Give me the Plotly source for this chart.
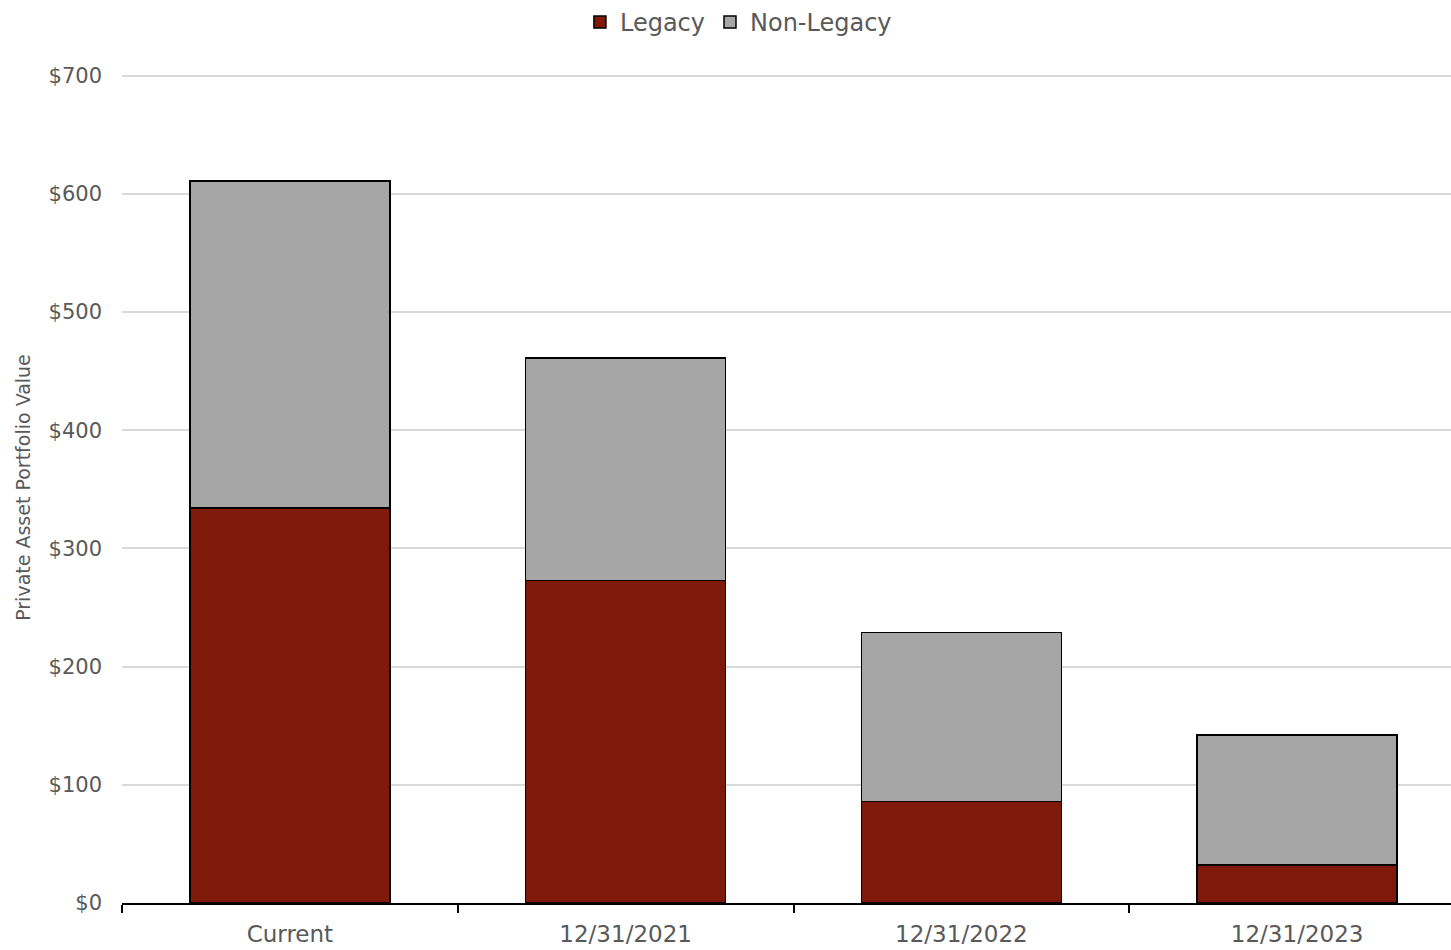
import plotly.graph_objects as go

categories = ["Current", "12/31/2021", "12/31/2022", "12/31/2023"]
legacy = [334, 273, 86, 32]
non_legacy = [277, 188, 143, 110]
ytick_vals = [0, 100, 200, 300, 400, 500, 600, 700]
ytick_text = ["$0", "$100", "$200", "$300", "$400", "$500", "$600", "$700"]

FONT = "'DejaVu Sans', 'Open Sans', sans-serif"
TXT = "#595959"

fig = go.Figure()
fig.add_trace(go.Bar(name="Legacy", x=categories, y=legacy,
                     marker=dict(color="#7F1A0A", line=dict(color="black", width=1.5))))
fig.add_trace(go.Bar(name="Non-Legacy", x=categories, y=non_legacy,
                     marker=dict(color="#A6A6A6", line=dict(color="black", width=1.5))))

fig.update_layout(
    barmode="stack", bargap=0.405,
    width=1465, height=950,
    margin=dict(l=122, r=0, t=69, b=47),
    plot_bgcolor="white", paper_bgcolor="white",
    font=dict(family=FONT, color=TXT, size=22),
    legend=dict(orientation="h", x=0.459, xanchor="center", y=1.06, yref="paper",
                yanchor="middle", font=dict(size=24, color=TXT), traceorder="normal",
                itemwidth=30),
    xaxis=dict(showline=True, linecolor="black", linewidth=1.5, ticks="outside",
               tickson="boundaries", ticklen=8, tickcolor="black", tickwidth=1.5,
               tickfont=dict(size=23, color=TXT), ticklabelstandoff=10, automargin=False),
    yaxis=dict(range=[0, 703], tickvals=ytick_vals, ticktext=ytick_text,
               showgrid=True,
               gridcolor="#D9D9D9", gridwidth=1.5, zeroline=False, automargin=False,
               tickfont=dict(size=21, color=TXT), ticklabelstandoff=19,
               title=dict(text="Private Asset Portfolio Value", font=dict(size=19, color=TXT),
                          standoff=12)),
)

fig.write_html("out.html", config={"displayModeBar": False},
               post_script="document.body.style.margin='0';document.body.style.overflow='hidden';")
